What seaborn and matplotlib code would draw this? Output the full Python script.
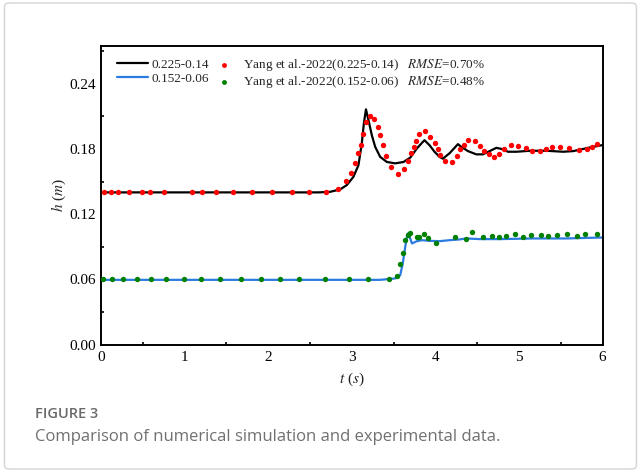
import matplotlib
matplotlib.use("Agg")
import matplotlib.pyplot as plt
from matplotlib.patches import FancyBboxPatch
from matplotlib.ticker import MultipleLocator
import seaborn as sns

# ---------------- data ----------------
black_t = [0.0, 2.60, 2.74, 2.86, 2.94, 3.02, 3.08, 3.12, 3.145, 3.17, 3.20, 3.24, 3.28,
           3.34, 3.42, 3.52, 3.62, 3.70, 3.78, 3.84, 3.87, 3.93, 3.99, 4.05, 4.09, 4.17,
           4.23, 4.27, 4.31, 4.39, 4.49, 4.57, 4.65, 4.73, 4.79, 4.87, 4.97, 5.13, 5.33,
           5.53, 5.65, 5.77, 5.89, 6.0]
black_h = [0.14, 0.14, 0.1405, 0.1427, 0.1467, 0.1543, 0.165, 0.185, 0.2035, 0.2164,
           0.2065, 0.1927, 0.182, 0.1727, 0.168, 0.1667, 0.168, 0.172, 0.1805, 0.1856,
           0.188, 0.1835, 0.1774, 0.1727, 0.171, 0.176, 0.181, 0.1844, 0.182, 0.178,
           0.175, 0.175, 0.178, 0.181, 0.18, 0.1774, 0.1774, 0.1783, 0.1783, 0.1774,
           0.178, 0.18, 0.182, 0.1835]

blue_t = [0.0, 3.34, 3.52, 3.58, 3.61, 3.64, 3.66, 3.67, 3.70, 3.72, 3.78, 3.84, 3.93,
          4.05, 4.17, 4.29, 4.37, 4.53, 4.77, 5.17, 5.57, 6.0]
blue_h = [0.0595, 0.0595, 0.0608, 0.0638, 0.0746, 0.0899, 0.099, 0.1022, 0.0976, 0.093,
          0.0951, 0.096, 0.0954, 0.0951, 0.096, 0.0967, 0.0976, 0.097, 0.097, 0.0976,
          0.0976, 0.0985]

red_t = [0.03, 0.12, 0.20, 0.33, 0.49, 0.59, 0.75, 1.09, 1.21, 1.38, 1.58, 1.81, 2.05,
         2.28, 2.49, 2.69, 2.83, 2.93, 2.99, 3.04, 3.08, 3.11, 3.14, 3.17, 3.22, 3.27,
         3.32, 3.34, 3.37, 3.41, 3.47, 3.55, 3.62, 3.67, 3.71, 3.74, 3.77, 3.81, 3.88,
         3.94, 4.00, 4.03, 4.06, 4.11, 4.20, 4.26, 4.30, 4.34, 4.39, 4.47, 4.53, 4.58,
         4.64, 4.70, 4.76, 4.82, 4.91, 4.99, 5.08, 5.16, 5.25, 5.32, 5.39, 5.49, 5.60,
         5.72, 5.82, 5.88, 5.94]
red_h = [0.14, 0.14, 0.14, 0.14, 0.14, 0.14, 0.14, 0.14, 0.14, 0.14, 0.14, 0.14, 0.14,
         0.14, 0.14, 0.14, 0.143, 0.1507, 0.158, 0.167, 0.1765, 0.1835, 0.1937, 0.2044,
         0.210, 0.2075, 0.1998, 0.1924, 0.1835, 0.1734, 0.1635, 0.1568, 0.1614, 0.1688,
         0.1759, 0.1814, 0.1872, 0.1936, 0.1964, 0.1906, 0.185, 0.1795, 0.174, 0.169,
         0.168, 0.1737, 0.1795, 0.1835, 0.1878, 0.1875, 0.1826, 0.1783, 0.175, 0.1722,
         0.175, 0.1798, 0.1835, 0.1829, 0.1805, 0.178, 0.178, 0.1796, 0.1814, 0.1817,
         0.181, 0.179, 0.1795, 0.182, 0.1844]

green_t = [0.02, 0.13, 0.26, 0.43, 0.60, 0.78, 0.99, 1.20, 1.42, 1.67, 1.91, 2.14, 2.37,
           2.68, 2.97, 3.20, 3.44, 3.54, 3.58, 3.61, 3.64, 3.67, 3.70, 3.78, 3.81, 3.87,
           3.91, 4.01, 4.24, 4.37, 4.44, 4.57, 4.68, 4.76, 4.85, 4.95, 5.05, 5.15, 5.26,
           5.35, 5.45, 5.58, 5.69, 5.79, 5.93]
green_h = [0.06, 0.06, 0.06, 0.06, 0.06, 0.06, 0.06, 0.06, 0.06, 0.06, 0.06, 0.06, 0.06,
           0.06, 0.06, 0.06, 0.06, 0.0632, 0.0737, 0.0843, 0.096, 0.101, 0.1028, 0.099,
           0.099, 0.1013, 0.0976, 0.0936, 0.099, 0.0972, 0.1033, 0.0987, 0.100, 0.0987,
           0.0996, 0.1015, 0.099, 0.1008, 0.1005, 0.0996, 0.1008, 0.1013, 0.0997, 0.1013,
           0.1013]

labels = ["0.225-0.14", "0.152-0.06",
          "Yang et al.-2022(0.225-0.14)   $RMSE$=0.70%",
          "Yang et al.-2022(0.152-0.06)   $RMSE$=0.48%"]
xticks = [0, 1, 2, 3, 4, 5, 6]
yticks = [0.00, 0.06, 0.12, 0.18, 0.24]

# ---------------- style ----------------
sns.set_style("white")
plt.rcParams["font.family"] = ["Liberation Serif", "DejaVu Serif"]
plt.rcParams["mathtext.fontset"] = "stix"

fig = plt.figure(figsize=(6.41, 4.72), dpi=100)
W, H = 641, 472
ax = fig.add_axes([101 / W, 1 - 344.5 / H, (602.5 - 101) / W, (344.5 - 45.7) / H])

sns.lineplot(x=black_t, y=black_h, color="black", linewidth=1.6, estimator=None,
             sort=False, ax=ax, label=labels[0], zorder=2)
sns.lineplot(x=blue_t, y=blue_h, color="#2b7be0", linewidth=1.6, estimator=None,
             sort=False, ax=ax, label=labels[1], zorder=2)
sns.scatterplot(x=red_t, y=red_h, color="#ff0000", s=15, linewidth=0, ax=ax,
                label=labels[2], zorder=3)
sns.scatterplot(x=green_t, y=green_h, color="#008000", s=15, linewidth=0, ax=ax,
                label=labels[3], zorder=3)

ax.set_xlim(0, 6)
ax.set_ylim(0, 0.275)
ax.set_xticks(xticks)
ax.set_yticks(yticks)
ax.set_xticklabels([str(v) for v in xticks])
ax.set_yticklabels([f"{v:.2f}" for v in yticks])
ax.xaxis.set_minor_locator(MultipleLocator(0.5))
ax.yaxis.set_minor_locator(MultipleLocator(0.03))
ax.tick_params(which="both", direction="in", top=False, right=False,
               labelsize=11, colors="black", width=1.2)
ax.tick_params(which="major", length=4)
ax.tick_params(axis="x", which="major", pad=4.5)
ax.tick_params(which="minor", length=2.5, bottom=True, left=True)
for s in ax.spines.values():
    s.set_linewidth(1.4)
    s.set_color("black")
    s.set_visible(True)

ax.set_xlabel("$t$ ($s$)", fontsize=11, labelpad=5)
ax.set_ylabel("$h$ ($m$)", fontsize=11, labelpad=1)

handles, labs = ax.get_legend_handles_labels()
order = [labs.index(l) for l in labels]
h2 = [handles[i] for i in order]
l2 = [labs[i] for i in order]
leg = ax.legend(h2, l2, ncol=2, loc="upper left", bbox_to_anchor=(0.031, 0.962),
                frameon=False, fontsize=9.5, handlelength=2.4, handletextpad=0.25,
                columnspacing=-0.05, labelspacing=0.1, borderpad=0, borderaxespad=0,
                markerscale=0.9)

# figure frame + caption
fig.patches.append(FancyBboxPatch((4.5 / W, 3 / H), (636.5 - 4.5) / W, (469 - 3) / H,
                                  boxstyle="round,pad=0,rounding_size=0.008",
                                  transform=fig.transFigure, facecolor="none",
                                  edgecolor="#d4d4d4", linewidth=1.0))
fig.text(35 / W, 1 - 414 / H, "FIGURE 3", family=["Open Sans", "DejaVu Sans"],
         weight="semibold", color="#6a6a6a", fontsize=10.5, va="center", ha="left")
fig.text(35 / W, 1 - 437 / H, "Comparison of numerical simulation and experimental data.",
         family=["Open Sans", "DejaVu Sans"], color="#707070", fontsize=12,
         va="center", ha="left")

fig.savefig("out.png", dpi=100)
